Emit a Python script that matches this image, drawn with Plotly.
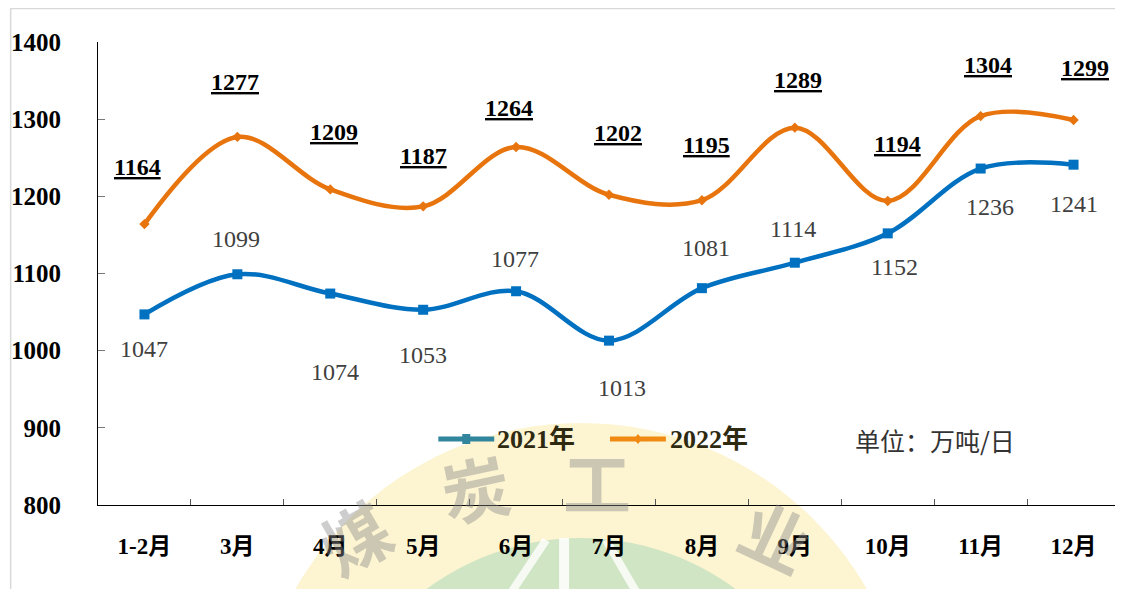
import plotly.graph_objects as go

# data
months = ['1-2月', '3月', '4月', '5月', '6月', '7月', '8月', '9月', '10月', '11月', '12月']
y2021 = [1047, 1099, 1074, 1053, 1077, 1013, 1081, 1114, 1152, 1236, 1241]
y2022 = [1164, 1277, 1209, 1187, 1264, 1202, 1195, 1289, 1194, 1304, 1299]

blue = '#0070C0'
orange = '#E8740E'
serif = 'Liberation Serif, Times New Roman, Noto Sans CJK SC'
cjk = 'Noto Sans CJK SC'

# page puts the figure at an 8px offset
W, H = 1115, 581
ml, mr, mt, mb = 88, 3, 34, 84
pw, ph = W - ml - mr, H - mt - mb


def px(x):
    # screen pixel -> paper x
    return (x - 8 - ml) / pw


def py(y):
    # screen pixel -> paper y
    return (H - mb - (y - 8)) / ph


fig = go.Figure()

fig.add_trace(go.Scatter(x=months, y=y2021, mode='lines+markers', name='2021年',
                         line=dict(color=blue, width=4.5, shape='spline'),
                         marker=dict(symbol='square', size=10, color=blue)))
fig.add_trace(go.Scatter(x=months, y=y2022, mode='lines+markers', name='2022年',
                         line=dict(color=orange, width=4.5, shape='spline'),
                         marker=dict(symbol='diamond', size=8, color=orange)))

# label offsets in pixels (dx, dy)
off2022 = [(-7, 57), (-2, 55), (4, 57), (0, 50), (-7, 39), (9, 62),
           (5, 55), (3, 48), (10, 57), (7, 51), (11, 52)]
off2021 = [(0, -35), (-1, 35), (5, -78), (0, -45), (-1, 32), (13, -47),
           (4, 40), (-2, 34), (7, -34), (9, -38), (0, -39)]

annotations = []

# watermark (faint logo text)
for ch, cx, cy, rot in [('煤', 352, 536, -30), ('炭', 474, 486, -12),
                        ('工', 596, 480, 0), ('业', 776, 534, 25)]:
    annotations.append(dict(x=px(cx), y=py(cy), xref='paper', yref='paper', text=ch,
                            xanchor='center', yanchor='middle',
                            showarrow=False, textangle=rot,
                            font=dict(family=cjk, size=68, color='rgba(135,135,135,0.42)', weight='bold')))

for m, v, (dx, dy) in zip(months, y2022, off2022):
    annotations.append(dict(x=m, y=v, text=f'<u><b>{v}</b></u>', showarrow=False,
                            xshift=dx, yshift=dy,
                            font=dict(family=serif, size=24, color='black')))
for m, v, (dx, dy) in zip(months, y2021, off2021):
    annotations.append(dict(x=m, y=v, text=str(v), showarrow=False,
                            xshift=dx, yshift=dy,
                            font=dict(family=serif, size=24, color='#404040')))

# hand-made legend
legend_font = dict(family=serif, size=26, color='#2E2A12', weight='bold')
annotations.append(dict(x=px(494), y=py(439), xref='paper', yref='paper',
                        xanchor='left', yanchor='middle',
                        text='2021年', showarrow=False, font=legend_font))
annotations.append(dict(x=px(667), y=py(439), xref='paper', yref='paper',
                        xanchor='left', yanchor='middle',
                        text='2022年', showarrow=False, font=legend_font))
annotations.append(dict(x=px(935), y=py(440), xref='paper', yref='paper',
                        xanchor='center', yanchor='middle',
                        text='单位：万吨/日', showarrow=False,
                        font=dict(family=cjk, size=25, color='#333333')))

teal = '#31859C'
leg_orange = '#F08A12'
shapes = [
    # background logo
    dict(type='circle', xref='paper', yref='paper', layer='below',
         x0=px(580 - 330), x1=px(580 + 330), y0=py(753 + 330), y1=py(753 - 330),
         fillcolor='rgba(250,226,135,0.38)', line=dict(width=0)),
    dict(type='circle', xref='paper', yref='paper', layer='below',
         x0=px(580 - 260), x1=px(580 + 260), y0=py(798 + 260), y1=py(798 - 260),
         fillcolor='rgba(150,210,180,0.45)', line=dict(width=0)),
    dict(type='line', xref='paper', yref='paper', layer='below',
         x0=px(563), x1=px(563), y0=py(538), y1=py(600),
         line=dict(color='rgba(255,255,255,0.85)', width=10)),
    dict(type='line', xref='paper', yref='paper', layer='below',
         x0=px(545), x1=px(505), y0=py(540), y1=py(600),
         line=dict(color='rgba(255,255,255,0.8)', width=8)),
    dict(type='line', xref='paper', yref='paper', layer='below',
         x0=px(605), x1=px(640), y0=py(540), y1=py(600),
         line=dict(color='rgba(255,255,255,0.8)', width=8)),
    # outer frame
    dict(type='rect', xref='paper', yref='paper',
         x0=px(8.5), x1=px(1120.5), y0=py(610), y1=py(8.5),
         line=dict(color='#D9D9D9', width=1.5)),
    # legend symbols
    dict(type='line', xref='paper', yref='paper', x0=px(437), x1=px(493), y0=py(439), y1=py(439),
         line=dict(color=teal, width=5)),
    dict(type='rect', xref='paper', yref='paper', x0=px(461), x1=px(469), y0=py(444), y1=py(434),
         fillcolor=teal, line=dict(width=0)),
    dict(type='line', xref='paper', yref='paper', x0=px(609), x1=px(665), y0=py(439), y1=py(439),
         line=dict(color=leg_orange, width=5)),
    dict(type='path', xref='paper', yref='paper',
         path=f'M {px(637)},{py(434)} L {px(641)},{py(439)} L {px(637)},{py(444)} L {px(633)},{py(439)} Z',
         fillcolor=leg_orange, line=dict(width=0)),
]

fig.update_layout(
    width=W, height=H,
    margin=dict(l=ml, r=mr, t=mt, b=mb),
    paper_bgcolor='white', plot_bgcolor='rgba(0,0,0,0)',
    showlegend=False,
    annotations=annotations,
    shapes=shapes,
)

fig.update_xaxes(type='category', range=[-0.5, 10.5], showline=True, linecolor='black', linewidth=1,
                 ticks='inside', tickson='boundaries', ticklen=6, tickcolor='#555555',
                 showgrid=False, zeroline=False, ticklabelstandoff=20,
                 tickfont=dict(family=serif, size=23, color='black', weight='bold'))
fig.update_yaxes(range=[800, 1400], dtick=100, showline=True, linecolor='black', linewidth=1,
                 ticks='inside', ticklen=7, tickcolor='#777777',
                 showgrid=False, zeroline=False, ticklabelstandoff=31,
                 tickfont=dict(family=serif, size=25, color='black', weight='bold'))

fig.write_html('out.html')
